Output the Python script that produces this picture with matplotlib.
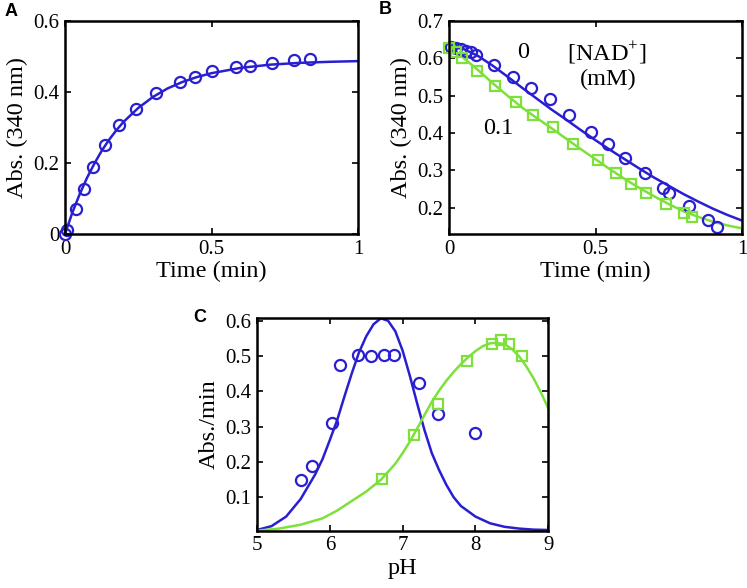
import matplotlib
matplotlib.use("Agg")
import matplotlib.pyplot as plt
import numpy as np

plt.rcParams['mathtext.fontset'] = 'custom'
plt.rcParams['mathtext.rm'] = 'Liberation Serif'

blue = '#2a1fd0'
green = '#7ee03a'

# Panel A: product formation
a_t = [0, 0.006, 0.036, 0.066, 0.097, 0.136, 0.185, 0.243, 0.311, 0.392,
       0.444, 0.503, 0.583, 0.633, 0.707, 0.782, 0.837]
a_abs = [0.0, 0.012, 0.070, 0.128, 0.190, 0.251, 0.308, 0.352, 0.398, 0.427,
         0.443, 0.459, 0.471, 0.474, 0.483, 0.490, 0.492]
a_fit_t = [0, 0.025, 0.05, 0.075, 0.1, 0.125, 0.15, 0.175, 0.2, 0.25, 0.3,
           0.35, 0.4, 0.45, 0.5, 0.6, 0.7, 0.8, 0.9, 1.0]
a_fit = [0.0, 0.060, 0.112, 0.158, 0.198, 0.234, 0.265, 0.292, 0.316, 0.355,
         0.386, 0.410, 0.428, 0.442, 0.453, 0.468, 0.477, 0.482, 0.485, 0.487]

# Panel B: [NAD+] = 0 (circles) and 0.1 mM (squares)
b0_t = [0.008, 0.025, 0.042, 0.058, 0.075, 0.092, 0.153, 0.217, 0.281, 0.345,
        0.410, 0.486, 0.544, 0.601, 0.668, 0.731, 0.751, 0.819, 0.884, 0.915]
b0_abs = [0.630, 0.628, 0.625, 0.621, 0.616, 0.609, 0.582, 0.551, 0.521, 0.490,
          0.449, 0.403, 0.370, 0.334, 0.292, 0.253, 0.240, 0.206, 0.168, 0.148]
b1_t = [0.0, 0.025, 0.043, 0.097, 0.157, 0.227, 0.288, 0.354, 0.423, 0.507,
        0.570, 0.620, 0.673, 0.741, 0.803, 0.828]
b1_abs = [0.628, 0.617, 0.600, 0.566, 0.527, 0.482, 0.449, 0.415, 0.371, 0.328,
          0.292, 0.265, 0.241, 0.211, 0.187, 0.176]
b_fit_t = [0, 0.05, 0.1, 0.15, 0.2, 0.25, 0.3, 0.35, 0.4, 0.45, 0.5,
           0.55, 0.6, 0.65, 0.7, 0.75, 0.8, 0.85, 0.9, 0.95, 1.0]
b0_fit = [0.632, 0.625, 0.606, 0.580, 0.551, 0.521, 0.492, 0.463, 0.436, 0.408,
          0.381, 0.355, 0.330, 0.305, 0.281, 0.259, 0.237, 0.217, 0.198, 0.181, 0.166]
b1_fit = [0.630, 0.601, 0.568, 0.533, 0.500, 0.468, 0.440, 0.413, 0.385, 0.357,
          0.330, 0.303, 0.277, 0.253, 0.231, 0.210, 0.191, 0.176, 0.163, 0.153, 0.145]

# Panel C: pH profiles
c0_ph = [5.604, 5.751, 6.026, 6.140, 6.392, 6.562, 6.745, 6.882, 7.23, 7.48, 7.995]
c0_rate = [0.149, 0.189, 0.311, 0.475, 0.503, 0.500, 0.503, 0.503, 0.423, 0.335, 0.281]
c1_ph = [6.717, 7.152, 7.49, 7.889, 8.228, 8.347, 8.466, 8.644]
c1_rate = [0.151, 0.276, 0.364, 0.487, 0.533, 0.545, 0.535, 0.500]
c0_fit_ph = [5.0, 5.2, 5.4, 5.6, 5.8, 5.9, 6.0, 6.1, 6.2, 6.3, 6.4, 6.5, 6.6, 6.7,
             6.8, 6.9, 7.0, 7.1, 7.2, 7.3, 7.4, 7.5, 7.6, 7.7, 7.8, 8.0, 8.2,
             8.4, 8.6, 8.8, 9.0]
c0_fit = [0.007, 0.018, 0.045, 0.095, 0.165, 0.208, 0.262, 0.318, 0.385, 0.450,
          0.510, 0.556, 0.590, 0.607, 0.600, 0.570, 0.515, 0.443, 0.365, 0.290,
          0.225, 0.177, 0.135, 0.100, 0.075, 0.045, 0.026, 0.016, 0.011, 0.008, 0.007]
c1_fit_ph = [5.0, 5.3, 5.6, 5.9, 6.1, 6.3, 6.5, 6.7, 6.9, 7.0, 7.1, 7.2, 7.3,
             7.4, 7.5, 7.6, 7.7, 7.8, 7.9, 8.0, 8.1, 8.2, 8.3, 8.4, 8.5, 8.6,
             8.7, 8.8, 8.9, 9.0]
c1_fit = [0.005, 0.011, 0.022, 0.040, 0.062, 0.089, 0.116, 0.149, 0.195, 0.225,
          0.258, 0.295, 0.333, 0.370, 0.402, 0.430, 0.455, 0.477, 0.497, 0.514,
          0.528, 0.536, 0.538, 0.533, 0.520, 0.499, 0.470, 0.436, 0.396, 0.352]

serif = 'Liberation Serif'
tick_fs = 15
lab_fs = 17.5

fig = plt.figure(figsize=(7.47, 5.88), dpi=100)


def style(ax):
    ax.tick_params(direction='in', top=True, right=True, length=4, width=1.2,
                   labelsize=tick_fs, pad=4)
    for lab in ax.get_xticklabels() + ax.get_yticklabels():
        lab.set_family(serif)
    for s in ax.spines.values():
        s.set_linewidth(1.8)


mk = dict(mfc='none', mew=1.6, ms=8, ls='none')
sq = dict(mfc='none', mew=1.6, ms=7, ls='none')

# A
ax = fig.add_axes([65/747, 1-234/588, 293/747, 213/588])
ax.plot(a_fit_t, a_fit, color=blue, lw=1.8)
ax.plot(a_t, a_abs, marker='o', color=blue, clip_on=False, **mk)
ax.set_xlim(0, 1)
ax.set_ylim(0, 0.6)
ax.set_xticks([0, 0.5, 1])
ax.set_xticklabels(['0', '0.5', '1'])
ax.set_yticks([0, 0.2, 0.4, 0.6])
ax.set_yticklabels(['0', '0.2', '0.4', '0.6'])
ax.set_xlabel('Time (min)', family=serif, fontsize=lab_fs, labelpad=2)
ax.set_ylabel('Abs. (340 nm)', family=serif, fontsize=lab_fs, labelpad=4)
style(ax)

# B
ax = fig.add_axes([449/747, 1-234/588, 293/747, 213/588])
ax.plot(b_fit_t, b0_fit, color=blue, lw=1.8)
ax.plot(b_fit_t, b1_fit, color=green, lw=1.8)
ax.plot(b0_t, b0_abs, marker='o', color=blue, clip_on=False, **mk)
ax.plot(b1_t, b1_abs, marker='s', color=green, clip_on=False, **sq)
ax.set_xlim(0, 1)
ax.set_ylim(0.13, 0.7)
ax.set_xticks([0, 0.5, 1])
ax.set_xticklabels(['0', '0.5', '1'])
ax.set_yticks([0.2, 0.3, 0.4, 0.5, 0.6, 0.7])
ax.set_xlabel('Time (min)', family=serif, fontsize=lab_fs, labelpad=2)
ax.set_ylabel('Abs. (340 nm)', family=serif, fontsize=lab_fs, labelpad=4)
ax.text(0.252, 0.616, '0', family=serif, fontsize=lab_fs, ha='center', va='center')
ax.text(0.538, 0.615, r'[NAD$^{+}$]', family=serif, fontsize=lab_fs, ha='center', va='center')
ax.text(0.543, 0.543, '(mM)', family=serif, fontsize=lab_fs, ha='center', va='center')
ax.text(0.168, 0.413, '0.1', family=serif, fontsize=lab_fs, ha='center', va='center')
style(ax)

# C
ax = fig.add_axes([257/747, 1-530.7/588, 291.3/747, 212.4/588])
ax.plot(c0_fit_ph, c0_fit, color=blue, lw=1.8)
ax.plot(c1_fit_ph, c1_fit, color=green, lw=1.8)
ax.plot(c0_ph, c0_rate, marker='o', color=blue, **mk)
ax.plot(c1_ph, c1_rate, marker='s', color=green, **sq)
ax.set_xlim(5, 9)
ax.set_ylim(0.005, 0.607)
ax.set_xticks([5, 6, 7, 8, 9])
ax.set_yticks([0.1, 0.2, 0.3, 0.4, 0.5, 0.6])
ax.set_xlabel('pH', family=serif, fontsize=lab_fs, labelpad=2)
ax.set_ylabel('Abs./min', family=serif, fontsize=lab_fs, labelpad=4)
style(ax)

# panel letters
fig.text(11/747, 1-11/588, 'A', family='Liberation Sans', weight='bold',
         fontsize=13, ha='center', va='center')
fig.text(385/747, 1-10/588, 'B', family='Liberation Sans', weight='bold',
         fontsize=13, ha='center', va='center')
fig.text(200/747, 1-318/588, 'C', family='Liberation Sans', weight='bold',
         fontsize=13, ha='center', va='center')

fig.savefig('out.png', dpi=100)
